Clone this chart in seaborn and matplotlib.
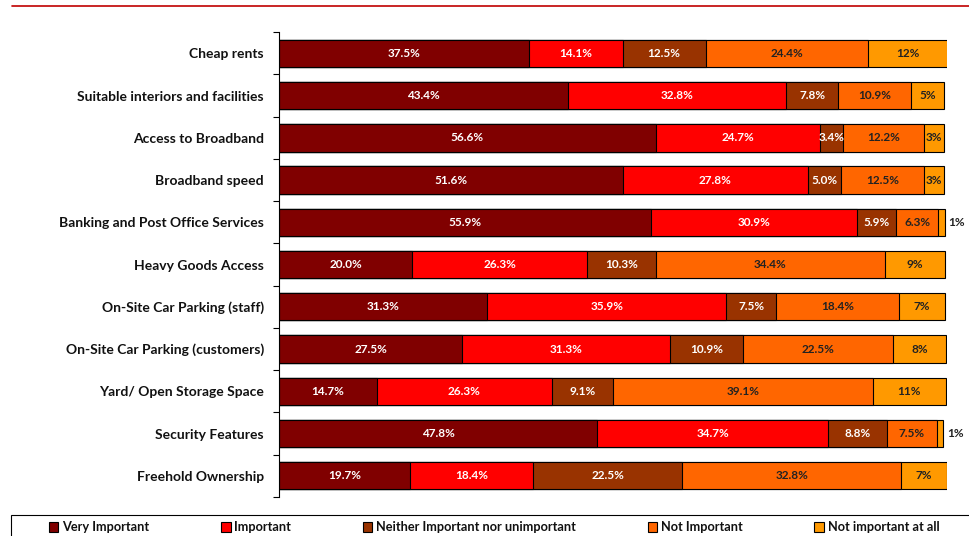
import numpy as np
import pandas as pd
import matplotlib
matplotlib.use("Agg")
import matplotlib.pyplot as plt
from matplotlib.lines import Line2D
from matplotlib.patches import Patch, Rectangle
import seaborn as sns

# Data
factors = ["Cheap rents", "Suitable interiors and facilities", "Access to Broadband",
           "Broadband speed", "Banking and Post Office Services", "Heavy Goods Access",
           "On-Site Car Parking (staff)", "On-Site Car Parking (customers)",
           "Yard/ Open Storage Space", "Security Features", "Freehold Ownership"]
levels = ["Very Important", "Important", "Neither Important nor unimportant",
          "Not Important", "Not important at all"]
very_important = [37.5, 43.4, 56.6, 51.6, 55.9, 20.0, 31.3, 27.5, 14.7, 47.8, 19.7]
important = [14.1, 32.8, 24.7, 27.8, 30.9, 26.3, 35.9, 31.3, 26.3, 34.7, 18.4]
neither = [12.5, 7.8, 3.4, 5.0, 5.9, 10.3, 7.5, 10.9, 9.1, 8.8, 22.5]
not_important = [24.4, 10.9, 12.2, 12.5, 6.3, 34.4, 18.4, 22.5, 39.1, 7.5, 32.8]
not_at_all = [12, 5, 3, 3, 1, 9, 7, 8, 11, 1, 7]

colors = ["#800000", "#FF0000", "#993300", "#FF6600", "#FF9900"]
text_colors = ["white", "white", "white", "#222222", "#222222"]

df = pd.DataFrame({"factor": factors, levels[0]: very_important, levels[1]: important,
                   levels[2]: neither, levels[3]: not_important, levels[4]: not_at_all})
cum = df[levels].cumsum(axis=1)

sns.set_theme(style="white")
plt.rcParams["font.family"] = ["Lato", "DejaVu Sans"]

fig = plt.figure(figsize=(9.69, 5.36), dpi=100)
ax = fig.add_axes([0.288, 0.073, 0.689, 0.867])

# stacked bars: draw cumulative totals from the widest down
for i in range(len(levels) - 1, -1, -1):
    sns.barplot(x=cum[levels[i]], y=df["factor"], color=colors[i], orient="h",
                width=0.65, edgecolor="black", linewidth=0.8, ax=ax, saturation=1)

# segment labels
for i, lev in enumerate(levels):
    for j, v in enumerate(df[lev]):
        left = cum[lev][j] - v
        txt = f"{v:.0f}%" if i == 4 else f"{v:.1f}%"
        if v < 2:
            ax.text(cum[lev][j] + 0.6, j, txt, ha="left", va="center",
                    fontsize=8.5, fontweight="bold", color="#222222", clip_on=False)
        else:
            ax.text(left + v / 2, j, txt, ha="center", va="center",
                    fontsize=8.5, fontweight="bold", color=text_colors[i])

ax.set_xlim(0, 100.3)
ax.set_ylim(len(factors) - 0.5, -0.5)
ax.set_xlabel("")
ax.set_ylabel("")
ax.set_xticks([])
ax.tick_params(axis="y", which="major", length=0, pad=11, labelsize=10)
for lbl in ax.get_yticklabels():
    lbl.set_fontweight("bold")
    lbl.set_color("#111111")
ax.set_yticks(np.arange(-0.5, len(factors), 1), minor=True)
ax.tick_params(axis="y", which="minor", length=4, width=0.8, color="black", left=True)
for s in ["top", "right", "bottom"]:
    ax.spines[s].set_visible(False)
ax.spines["left"].set_color("black")
ax.spines["left"].set_linewidth(0.8)

# top rule
fig.add_artist(Line2D([0.012, 1.0], [0.989, 0.989], color="#C00000", linewidth=1.2))

# legend box and entries
fig.add_artist(Rectangle((0.011, -0.02), 1.0, 0.059, transform=fig.transFigure,
                         facecolor="none", edgecolor="black", linewidth=0.8))
handles = [Patch(facecolor=c, edgecolor="black", linewidth=0.8) for c in colors]
leg = fig.legend(handles, levels, loc="center", bbox_to_anchor=(0.510, 0.016),
                 ncol=5, fontsize=9.2, frameon=False, columnspacing=5.6,
                 handlelength=0.75, handleheight=0.8, handletextpad=0.3, borderaxespad=0,
                 borderpad=0.1)
for t in leg.get_texts():
    t.set_fontweight("bold")
    t.set_color("#111111")

fig.savefig("out.png", dpi=100)
